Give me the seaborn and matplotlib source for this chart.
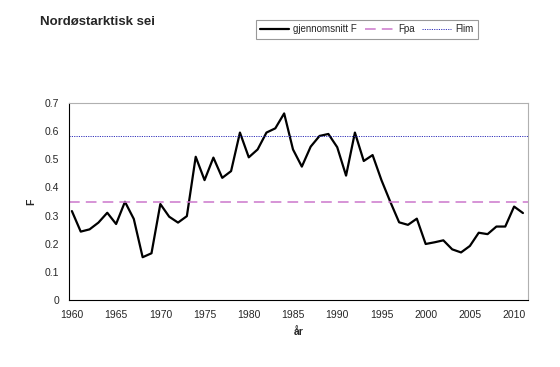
import numpy as np
import pandas as pd
import matplotlib
matplotlib.use("Agg")
import matplotlib.pyplot as plt
import seaborn as sns

years = list(range(1960, 2012))
f_avg = [0.316, 0.243, 0.251, 0.275, 0.310, 0.270, 0.349, 0.288, 0.152, 0.166,
         0.341, 0.296, 0.275, 0.298, 0.509, 0.426, 0.506, 0.434, 0.458, 0.595,
         0.507, 0.535, 0.595, 0.610, 0.663, 0.535, 0.474, 0.545, 0.583, 0.590,
         0.543, 0.442, 0.595, 0.494, 0.515, 0.426, 0.349, 0.276, 0.267, 0.289,
         0.199, 0.205, 0.212, 0.180, 0.169, 0.192, 0.239, 0.234, 0.261, 0.261,
         0.332, 0.309]
fpa = 0.35
flim = 0.583

df = pd.DataFrame({"år": years, "F": f_avg})

sns.set_style("white")
plt.rcParams['font.family'] = ['Liberation Sans', 'DejaVu Sans']

fig = plt.figure(figsize=(5.6, 3.67), dpi=100)
ax = fig.add_axes([0.123, 0.1826, 0.82, 0.5367])

sns.lineplot(data=df, x="år", y="F", color="black", linewidth=1.6, ax=ax,
             label="gjennomsnitt F")
ax.axhline(fpa, color="#cc77cc", linewidth=1.1, dashes=(7, 4), label="Fpa")
ax.axhline(flim, color="#3333bb", linewidth=0.7, dashes=(1.2, 1.2), label="Flim")

ax.set_xlim(1959.66, 2011.58)
ax.set_ylim(0, 0.7)
ax.set_yticks(np.arange(0, 0.71, 0.1))
ax.set_yticklabels(["0"] + ["%.1f" % v for v in np.arange(0.1, 0.71, 0.1)])
ax.set_xticks(list(range(1960, 2011, 5)))
ax.set_xticks(years, minor=True)
ax.tick_params(axis="both", which="both", direction="out", labelsize=7.5,
               length=3, width=0.6, color="black", pad=4)

for side in ["left", "bottom"]:
    ax.spines[side].set_color("black")
    ax.spines[side].set_linewidth(0.8)
for side in ["top", "right"]:
    ax.spines[side].set_color("#b0b0b0")
    ax.spines[side].set_linewidth(0.8)

ax.set_xlabel("år", fontsize=7.5, fontweight="bold", labelpad=5)
ax.set_ylabel("F", fontsize=7.5, fontweight="bold", labelpad=6)

fig.text(0.071, 0.94, "Nordøstarktisk sei", fontsize=9.5, fontweight="bold",
         va="center", ha="left")

leg = ax.legend(loc="center", bbox_to_anchor=(0.655, 0.92), bbox_transform=fig.transFigure,
                ncol=3, fontsize=7, frameon=True, fancybox=False, borderpad=0.45,
                handlelength=3.0, columnspacing=0.8, handletextpad=0.4)
leg.get_frame().set_edgecolor("#808080")
leg.get_frame().set_linewidth(0.8)

fig.savefig("out.png", dpi=100)
